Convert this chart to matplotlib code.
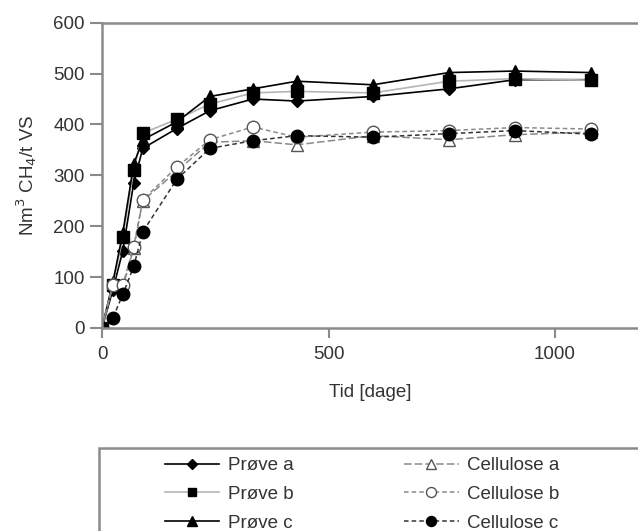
import matplotlib.pyplot as plt
from matplotlib.patches import Rectangle

plt.rcParams['font.family'] = ['Liberation Sans', 'DejaVu Sans']

# dage
tid = [0, 24, 46, 70, 90, 165, 238, 333, 430, 598, 766, 912, 1079]

prove_a = [0, 75, 152, 285, 353, 392, 427, 450, 446, 455, 470, 488, 488]
prove_b = [0, 85, 178, 310, 383, 410, 440, 462, 465, 462, 485, 490, 487]
prove_c = [0, 90, 187, 322, 370, 405, 455, 470, 485, 478, 502, 505, 502]
cell_a = [0, 88, 80, 157, 250, 308, 365, 368, 360, 378, 370, 380, 385]
cell_b = [0, 85, 85, 160, 252, 316, 370, 395, 375, 385, 388, 394, 391]
cell_c = [0, 20, 66, 121, 189, 292, 353, 368, 378, 375, 382, 388, 381]

fig = plt.figure(figsize=(6.38, 5.31), dpi=100)
ax = fig.add_axes([102/638, 1-328/531, 1-102/638, (328-22.7)/531])

grey = '#8a8a8a'
ax.plot(tid, prove_a, color='black', lw=1.2, marker='D', ms=6, label='Prøve a')
ax.plot(tid, prove_b, color='#b5b5b5', lw=1.2, marker='s', ms=8, mfc='black', mec='black', label='Prøve b')
ax.plot(tid, prove_c, color='black', lw=1.2, marker='^', ms=9, label='Prøve c')
ax.plot(tid, cell_a, color=grey, lw=1.1, ls=(0, (5, 2)), marker='^', ms=9, mfc='white', mec='#555555', label='Cellulose a')
ax.plot(tid, cell_b, color=grey, lw=1.1, ls=(0, (3, 2)), marker='o', ms=9, mfc='white', mec='#555555', label='Cellulose b')
ax.plot(tid, cell_c, color='#333333', lw=1.1, ls=(0, (3, 2)), marker='o', ms=9, mfc='black', mec='black', label='Cellulose c')

ax.set_xlim(0, (638-102)/0.453)
ax.set_ylim(0, 600)
ax.set_xticks([0, 500, 1000])
ax.set_yticks(range(0, 601, 100))
ax.tick_params(labelsize=13.5, length=7, width=1.5, direction='out', colors=grey, labelcolor='#333333')
ax.tick_params(axis='y', length=9)
ax.tick_params(axis='x', pad=6)
for s in ['left', 'bottom', 'top']:
    ax.spines[s].set_color(grey)
    ax.spines[s].set_linewidth(1.8)
ax.spines['right'].set_visible(False)

ax.set_xlabel('Tid [dage]', fontsize=13.5, color='#333333', labelpad=15)
ax.set_ylabel('Nm$^3$ CH$_4$/t VS', fontsize=13.5, color='#333333', labelpad=10)

# legend box under the chart
fig.patches.append(Rectangle((99/638, -0.05), 0.9, 1-448/531+0.05, transform=fig.transFigure,
                             fill=False, ec=grey, lw=1.8))
leg = fig.legend(loc='upper left', bbox_to_anchor=(165/638, 1-457/531), ncol=2,
                 frameon=False, fontsize=13.5, handlelength=2.9, handletextpad=0.45,
                 columnspacing=5.9, labelspacing=0.62, borderpad=0, borderaxespad=0,
                 markerscale=0.8)
for t in leg.get_texts():
    t.set_color('#333333')

fig.savefig('out.png', dpi=100)
